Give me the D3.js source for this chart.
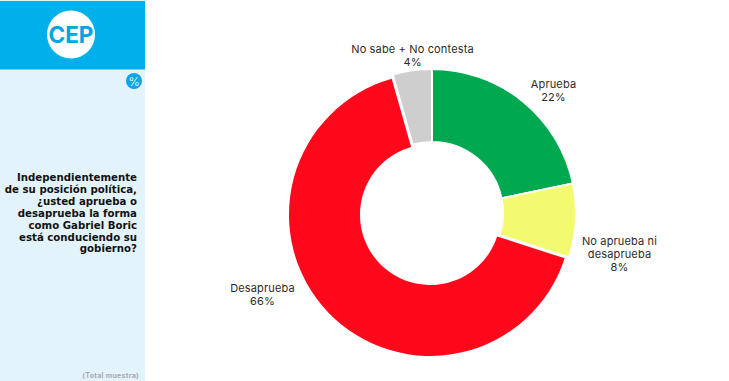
<!DOCTYPE html>
<html><head><meta charset="utf-8">
<script src="https://cdn.jsdelivr.net/npm/d3@7"></script>
<style>html,body{margin:0;padding:0;background:#fff}svg{display:block}text{font-family:Inter,"Open Sans",sans-serif}</style>
</head><body><svg id="c" width="729" height="381"></svg>
<script>
const categories=[["Aprueba"],["No aprueba ni","desaprueba"],["Desaprueba"],["No sabe + No contesta"]];
const values=[21.7,8.3,65.6,4.4];
const colors=["#00a94f","#f4fa70","#ff081c","#cecece"];
const labelCentres=[[553.5,90.5],[619.5,254],[262.5,294],[412.5,55.5]];
const question=["Independientemente","de su posición política,","¿usted aprueba o","desaprueba la forma","como Gabriel Boric","está conduciendo su","gobierno?"];
const svg=d3.select("#c");
svg.append("rect").attr("x",0).attr("y",0).attr("width",145).attr("height",381).attr("fill","#e3f3fc");
svg.append("rect").attr("x",0).attr("y",1).attr("width",145).attr("height",68.5).attr("fill","#00b0ea");
svg.append("circle").attr("cx",71).attr("cy",34.5).attr("r",24).attr("fill","#fff");
svg.append("text").attr("x",71).attr("y",42.5).attr("text-anchor","middle").attr("font-size",22.5).attr("font-weight",700).attr("fill","#00a5e3").text("CEP");
svg.append("circle").attr("cx",134).attr("cy",81).attr("r",8).attr("fill","#0ea5e6");
svg.append("text").attr("x",134).attr("y",85.5).attr("text-anchor","middle").attr("font-size",12).attr("font-weight",300).attr("fill","#fff").text("%");
svg.append("g").selectAll("text").data(question).join("text")
  .attr("x",137).attr("y",(d,i)=>181+i*11.9).attr("text-anchor","end").attr("font-size",10.2).attr("font-weight",700).attr("fill","#111")
  .style("font-family","'DejaVu Sans',sans-serif").text(d=>d);
svg.append("text").attr("x",139).attr("y",378).attr("text-anchor","end").attr("font-size",7).attr("font-weight",700).attr("letter-spacing",0.3).attr("fill","#a5a9ad").text("(Total muestra)");
const pie=d3.pie().sort(null)(values);
// The largest slice is pulled out slightly and is a little smaller, as in the reference.
const pulled=2.4, isMain=d=>d.index===2;
const arc=d3.arc()
  .innerRadius(d=>isMain(d)?70.3:71)
  .outerRadius(d=>isMain(d)?141.3:144);
const g=svg.append("g").attr("transform","translate(432,213)");
g.selectAll("path").data(pie).join("path").attr("d",arc).attr("fill",(d,i)=>colors[i])
  .attr("stroke",d=>isMain(d)?"none":"#fff").attr("stroke-width",2)
  .attr("transform",d=>{
    if(!isMain(d))return null;
    const a=(d.startAngle+d.endAngle)/2;
    return `translate(${pulled*Math.sin(a)},${-pulled*Math.cos(a)})`;
  });
const lg=svg.append("g").selectAll("text").data(categories).join("text").attr("text-anchor","middle").attr("font-size",11).attr("letter-spacing",0.15).attr("fill","#2b2b2b");
lg.each(function(lines,i){
  const t=d3.select(this),[x,y]=labelCentres[i];
  const all=[...lines,Math.round(values[i])+"%"];
  const top=y-(all.length-1)*13/2+4;
  all.forEach((s,k)=>t.append("tspan").attr("x",x).attr("y",top+k*13).text(s));
});
</script></body></html>
